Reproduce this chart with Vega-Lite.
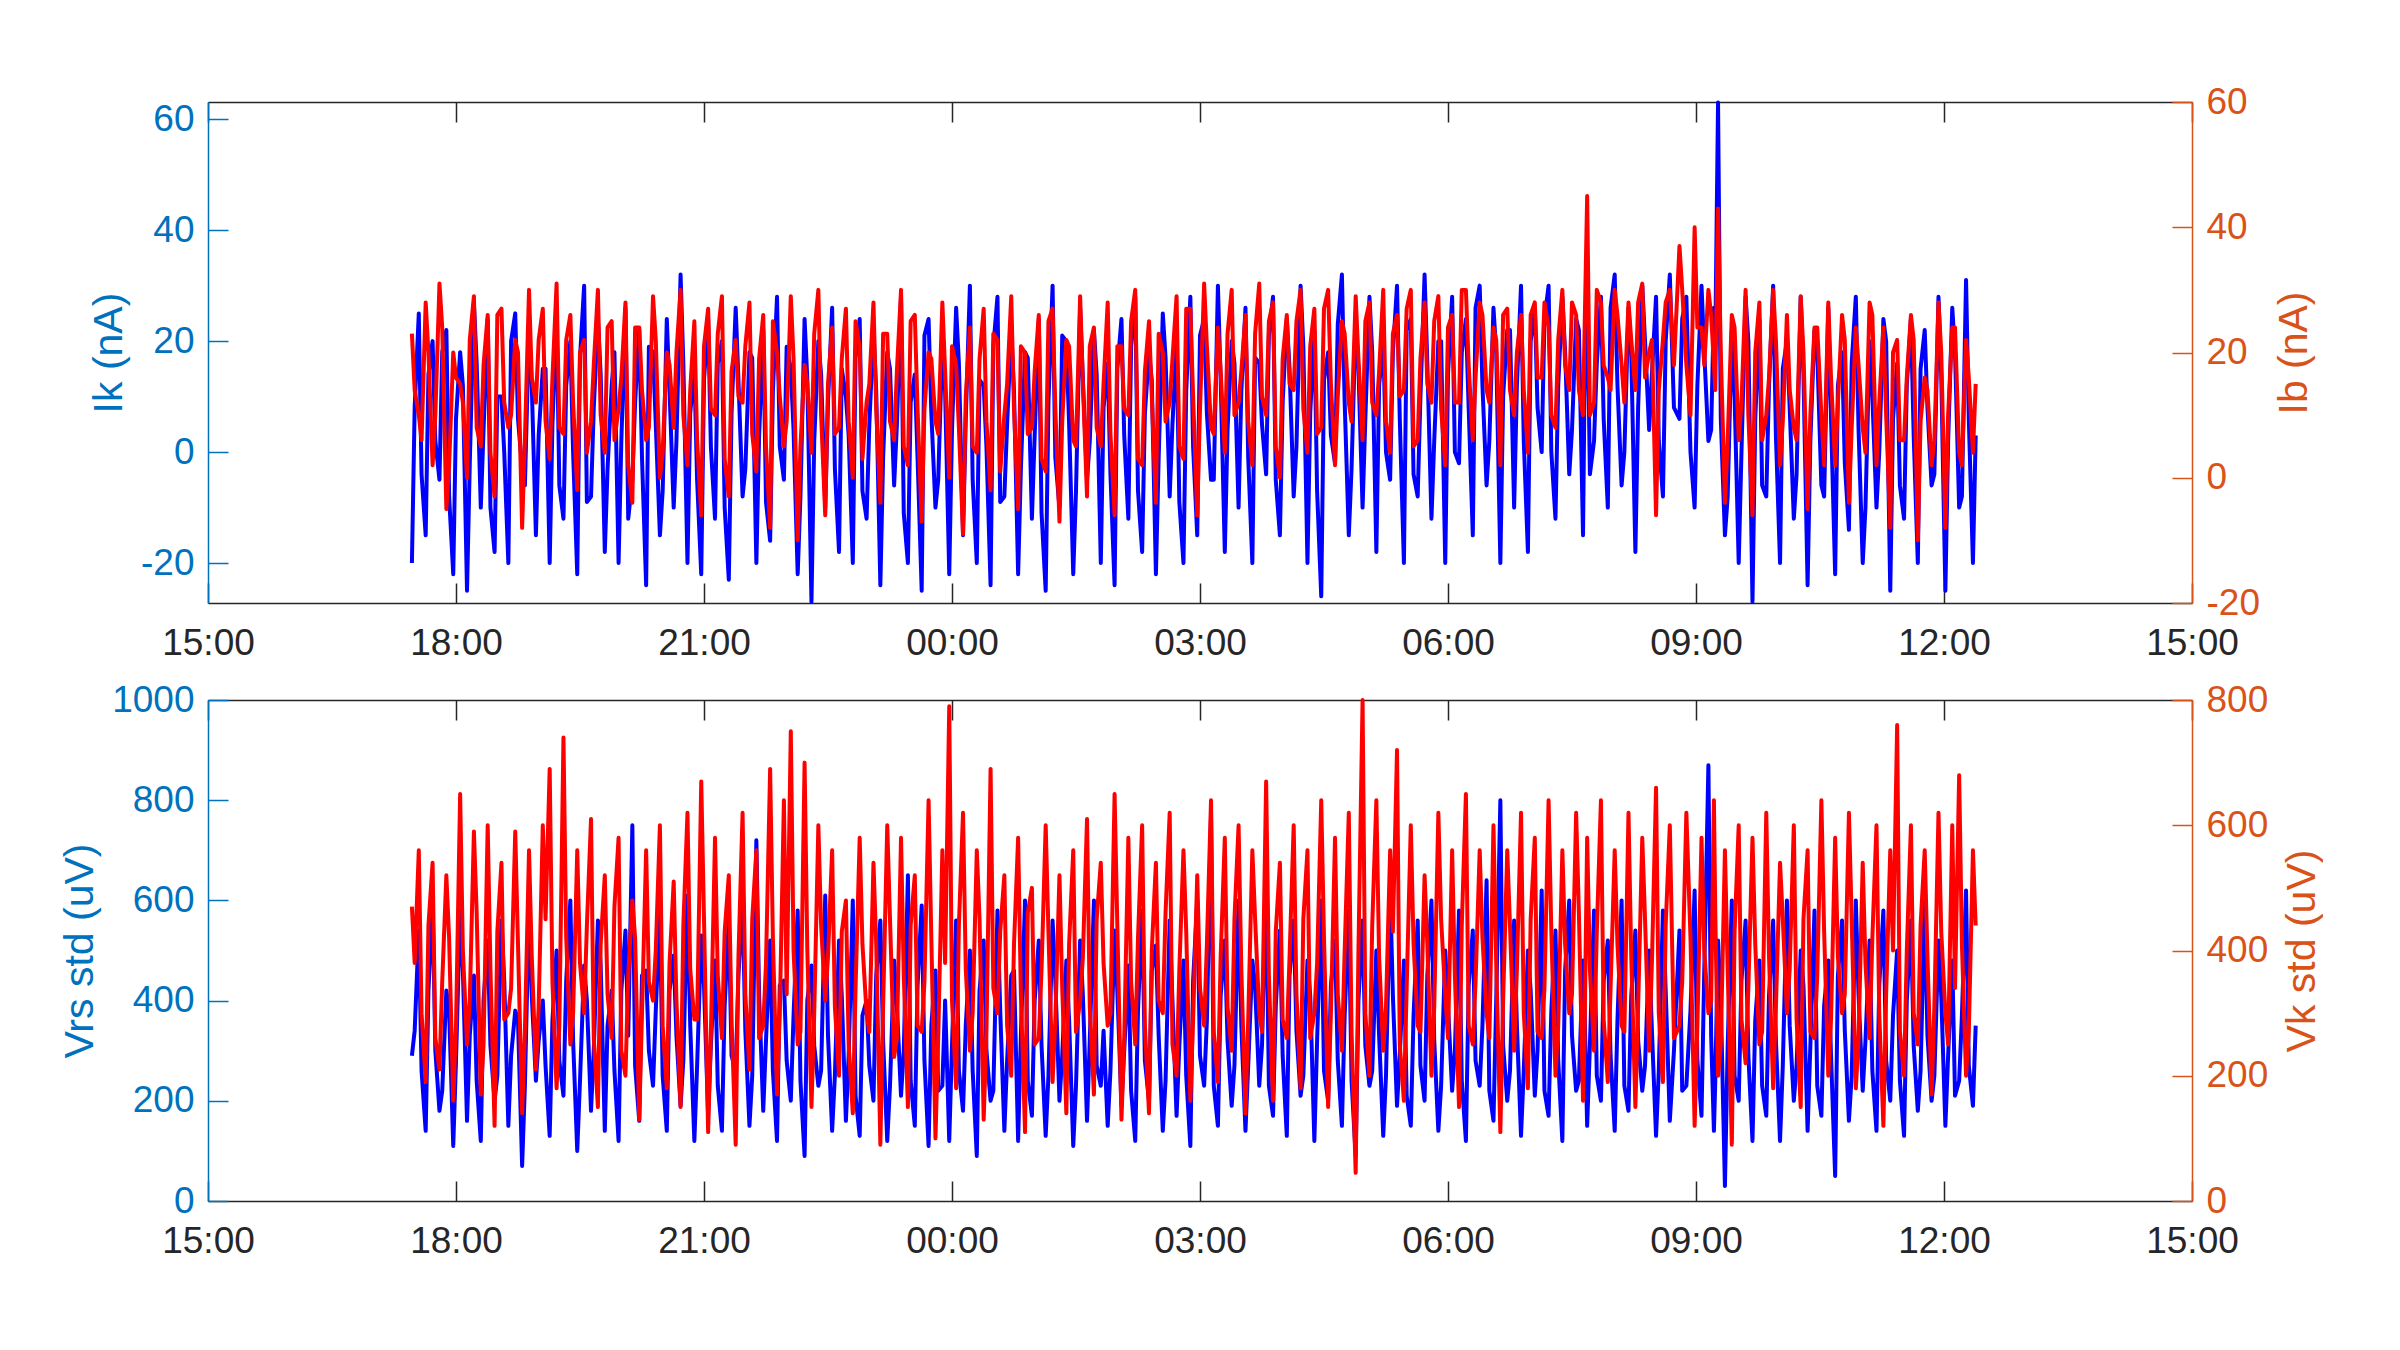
{
  "$schema": "https://vega.github.io/schema/vega-lite/v6.json",
  "background": "white",
  "padding": {"left": 59, "top": 83, "right": 0, "bottom": 0},
  "bounds": "flush",
  "spacing": 97,
  "config": {
    "view": {"stroke": null},
    "font": "Liberation Sans",
    "axis": {
      "grid": false,
      "labelFontSize": 37,
      "titleFontSize": 41,
      "titleFontWeight": "normal",
      "tickSize": -20,
      "tickWidth": 1.5,
      "domainWidth": 1.5,
      "labelFlush": false,
      "labelOverlap": false
    }
  },
  "data": {"values": [
    {"m":148,"a":-20,"b":23,"c":290,"d":470},{"m":150,"a":8,"b":14,"c":340,"d":380},
    {"m":153,"a":25,"b":10,"c":540,"d":560},{"m":155,"a":-4,"b":6,"c":260,"d":300},
    {"m":158,"a":-15,"b":28,"c":140,"d":190},{"m":160,"a":14,"b":20,"c":420,"d":440},
    {"m":163,"a":20,"b":2,"c":600,"d":540},{"m":165,"a":2,"b":10,"c":300,"d":260},
    {"m":168,"a":-5,"b":31,"c":180,"d":210},{"m":170,"a":18,"b":24,"c":220,"d":350},
    {"m":173,"a":22,"b":-5,"c":420,"d":520},{"m":175,"a":-8,"b":2,"c":380,"d":420},
    {"m":178,"a":-22,"b":20,"c":110,"d":160},{"m":180,"a":6,"b":16,"c":280,"d":280},
    {"m":183,"a":18,"b":15,"c":580,"d":650},{"m":185,"a":12,"b":12,"c":460,"d":400},
    {"m":188,"a":-25,"b":0,"c":160,"d":250},{"m":190,"a":-2,"b":22,"c":330,"d":320},
    {"m":193,"a":27,"b":29,"c":450,"d":590},{"m":195,"a":16,"b":8,"c":240,"d":460},
    {"m":198,"a":-10,"b":5,"c":120,"d":170},{"m":200,"a":4,"b":18,"c":400,"d":250},
    {"m":203,"a":24,"b":26,"c":520,"d":600},{"m":205,"a":-10,"b":4,"c":310,"d":370},
    {"m":208,"a":-18,"b":-3,"c":200,"d":120},{"m":210,"a":10,"b":26,"c":250,"d":430},
    {"m":213,"a":10,"b":27,"c":560,"d":540},{"m":215,"a":0,"b":12,"c":440,"d":290},
    {"m":218,"a":-20,"b":8,"c":150,"d":300},{"m":220,"a":20,"b":10,"c":290,"d":340},
    {"m":223,"a":25,"b":22,"c":380,"d":590},{"m":225,"a":6,"b":20,"c":360,"d":410},
    {"m":228,"a":-3,"b":-8,"c":70,"d":140},{"m":230,"a":-6,"b":6,"c":230,"d":270},
    {"m":233,"a":22,"b":30,"c":590,"d":560},{"m":235,"a":12,"b":16,"c":410,"d":390},
    {"m":238,"a":-15,"b":12,"c":240,"d":210},{"m":240,"a":3,"b":22,"c":320,"d":310},
    {"m":243,"a":15,"b":27,"c":400,"d":600},{"m":245,"a":15,"b":9,"c":270,"d":450},
    {"m":248,"a":-20,"b":3,"c":130,"d":690},{"m":250,"a":5,"b":16,"c":360,"d":350},
    {"m":253,"a":25,"b":31,"c":500,"d":180},{"m":255,"a":-6,"b":8,"c":280,"d":280},
    {"m":258,"a":-12,"b":7,"c":210,"d":740},{"m":260,"a":12,"b":22,"c":440,"d":420},
    {"m":263,"a":20,"b":26,"c":600,"d":250},{"m":265,"a":0,"b":12,"c":320,"d":300},
    {"m":268,"a":-22,"b":-2,"c":100,"d":560},{"m":270,"a":17,"b":20,"c":240,"d":380},
    {"m":273,"a":30,"b":22,"c":470,"d":300},{"m":275,"a":-9,"b":4,"c":400,"d":440},
    {"m":278,"a":-8,"b":9,"c":180,"d":610},{"m":280,"a":8,"b":18,"c":300,"d":260},
    {"m":283,"a":24,"b":30,"c":560,"d":150},{"m":285,"a":14,"b":10,"c":470,"d":410},
    {"m":288,"a":-18,"b":4,"c":140,"d":520},{"m":290,"a":-3,"b":24,"c":350,"d":330},
    {"m":293,"a":12,"b":25,"c":420,"d":260},{"m":295,"a":18,"b":6,"c":260,"d":470},
    {"m":298,"a":-20,"b":11,"c":120,"d":580},{"m":300,"a":2,"b":16,"c":420,"d":240},
    {"m":303,"a":26,"b":28,"c":540,"d":200},{"m":305,"a":-12,"b":2,"c":330,"d":360},
    {"m":308,"a":-5,"b":-4,"c":750,"d":480},{"m":310,"a":9,"b":24,"c":270,"d":420},
    {"m":313,"a":22,"b":24,"c":160,"d":130},{"m":315,"a":-1,"b":14,"c":450,"d":300},
    {"m":318,"a":-24,"b":6,"c":460,"d":560},{"m":320,"a":19,"b":8,"c":300,"d":350},
    {"m":323,"a":18,"b":29,"c":230,"d":320},{"m":325,"a":5,"b":22,"c":380,"d":400},
    {"m":328,"a":-15,"b":0,"c":580,"d":600},{"m":330,"a":-7,"b":4,"c":250,"d":280},
    {"m":333,"a":24,"b":20,"c":140,"d":180},{"m":335,"a":11,"b":18,"c":420,"d":380},
    {"m":338,"a":-10,"b":8,"c":490,"d":510},{"m":340,"a":2,"b":20,"c":330,"d":320},
    {"m":343,"a":32,"b":30,"c":190,"d":150},{"m":345,"a":16,"b":10,"c":280,"d":440},
    {"m":348,"a":-20,"b":2,"c":610,"d":620},{"m":350,"a":7,"b":14,"c":350,"d":370},
    {"m":353,"a":15,"b":25,"c":120,"d":290},{"m":355,"a":-5,"b":6,"c":270,"d":290},
    {"m":358,"a":-22,"b":-6,"c":530,"d":670},{"m":360,"a":13,"b":21,"c":430,"d":450},
    {"m":363,"a":24,"b":27,"c":170,"d":110},{"m":365,"a":1,"b":11,"c":310,"d":270},
    {"m":368,"a":-12,"b":10,"c":480,"d":580},{"m":370,"a":16,"b":23,"c":230,"d":360},
    {"m":373,"a":20,"b":29,"c":140,"d":260},{"m":375,"a":-10,"b":3,"c":390,"d":430},
    {"m":378,"a":-23,"b":-3,"c":560,"d":520},{"m":380,"a":7,"b":17,"c":290,"d":290},
    {"m":383,"a":26,"b":22,"c":260,"d":90},{"m":385,"a":13,"b":13,"c":450,"d":390},
    {"m":388,"a":-8,"b":12,"c":600,"d":620},{"m":390,"a":-3,"b":21,"c":340,"d":330},
    {"m":393,"a":18,"b":28,"c":150,"d":210},{"m":395,"a":17,"b":7,"c":250,"d":450},
    {"m":398,"a":-20,"b":1,"c":720,"d":560},{"m":400,"a":3,"b":19,"c":410,"d":260},
    {"m":403,"a":22,"b":26,"c":180,"d":280},{"m":405,"a":-9,"b":5,"c":320,"d":380},
    {"m":408,"a":-16,"b":-8,"c":520,"d":690},{"m":410,"a":11,"b":25,"c":260,"d":420},
    {"m":413,"a":28,"b":20,"c":120,"d":170},{"m":415,"a":1,"b":13,"c":430,"d":300},
    {"m":418,"a":-5,"b":5,"c":440,"d":640},{"m":420,"a":19,"b":9,"c":280,"d":330},
    {"m":423,"a":15,"b":29,"c":200,"d":750},{"m":425,"a":4,"b":19,"c":370,"d":400},
    {"m":428,"a":-22,"b":-10,"c":580,"d":250},{"m":430,"a":-8,"b":5,"c":240,"d":270},
    {"m":433,"a":24,"b":18,"c":90,"d":700},{"m":435,"a":13,"b":15,"c":400,"d":400},
    {"m":438,"a":-27,"b":4,"c":470,"d":150},{"m":440,"a":2,"b":23,"c":310,"d":300},
    {"m":443,"a":20,"b":30,"c":230,"d":600},{"m":445,"a":14,"b":10,"c":260,"d":440},
    {"m":448,"a":-10,"b":-6,"c":610,"d":320},{"m":450,"a":9,"b":15,"c":330,"d":390},
    {"m":453,"a":26,"b":24,"c":140,"d":560},{"m":455,"a":-3,"b":7,"c":250,"d":310},
    {"m":458,"a":-18,"b":8,"c":520,"d":200},{"m":460,"a":15,"b":19,"c":410,"d":430},
    {"m":463,"a":10,"b":27,"c":160,"d":480},{"m":465,"a":3,"b":9,"c":290,"d":250},
    {"m":468,"a":-20,"b":0,"c":600,"d":140},{"m":470,"a":17,"b":25,"c":210,"d":340},
    {"m":473,"a":24,"b":21,"c":130,"d":580},{"m":475,"a":-7,"b":3,"c":370,"d":410},
    {"m":478,"a":-12,"b":12,"c":400,"d":300},{"m":480,"a":5,"b":15,"c":270,"d":270},
    {"m":483,"a":22,"b":28,"c":200,"d":540},{"m":485,"a":11,"b":11,"c":450,"d":410},
    {"m":488,"a":-24,"b":-4,"c":560,"d":90},{"m":490,"a":-1,"b":23,"c":320,"d":310},
    {"m":493,"a":18,"b":23,"c":120,"d":600},{"m":495,"a":15,"b":9,"c":230,"d":450},
    {"m":498,"a":-6,"b":6,"c":480,"d":230},{"m":500,"a":5,"b":17,"c":390,"d":260},
    {"m":503,"a":28,"b":30,"c":210,"d":580},{"m":505,"a":-11,"b":5,"c":300,"d":360},
    {"m":508,"a":-20,"b":2,"c":650,"d":150},{"m":510,"a":9,"b":25,"c":240,"d":440},
    {"m":513,"a":14,"b":26,"c":150,"d":520},{"m":515,"a":-1,"b":11,"c":430,"d":280},
    {"m":518,"a":-25,"b":-7,"c":590,"d":270},{"m":520,"a":21,"b":11,"c":280,"d":350},
    {"m":523,"a":24,"b":20,"c":110,"d":640},{"m":525,"a":7,"b":19,"c":350,"d":420},
    {"m":528,"a":-10,"b":9,"c":460,"d":100},{"m":530,"a":-5,"b":7,"c":220,"d":260},
    {"m":533,"a":20,"b":28,"c":230,"d":560},{"m":535,"a":11,"b":17,"c":400,"d":380},
    {"m":538,"a":-22,"b":0,"c":120,"d":790},{"m":540,"a":4,"b":21,"c":310,"d":320},
    {"m":543,"a":26,"b":18,"c":560,"d":180},{"m":545,"a":16,"b":8,"c":260,"d":440},
    {"m":548,"a":-15,"b":-9,"c":180,"d":620},{"m":550,"a":6,"b":13,"c":350,"d":370},
    {"m":553,"a":30,"b":24,"c":500,"d":240},{"m":555,"a":-5,"b":5,"c":260,"d":300},
    {"m":558,"a":-20,"b":4,"c":90,"d":560},{"m":560,"a":13,"b":19,"c":420,"d":450},
    {"m":563,"a":12,"b":27,"c":520,"d":130},{"m":565,"a":1,"b":9,"c":300,"d":270},
    {"m":568,"a":-24,"b":-2,"c":200,"d":690},{"m":570,"a":19,"b":23,"c":220,"d":340},
    {"m":573,"a":28,"b":22,"c":580,"d":300},{"m":575,"a":-9,"b":1,"c":380,"d":430},
    {"m":578,"a":-8,"b":10,"c":140,"d":520},{"m":580,"a":5,"b":15,"c":280,"d":280},
    {"m":583,"a":22,"b":29,"c":450,"d":200},{"m":585,"a":11,"b":11,"c":460,"d":410},
    {"m":588,"a":-22,"b":-5,"c":120,"d":580},{"m":590,"a":-3,"b":21,"c":330,"d":330},
    {"m":593,"a":18,"b":20,"c":600,"d":110},{"m":595,"a":17,"b":7,"c":240,"d":460},
    {"m":598,"a":-12,"b":8,"c":170,"d":500},{"m":600,"a":3,"b":17,"c":400,"d":250},
    {"m":603,"a":24,"b":26,"c":520,"d":260},{"m":605,"a":-11,"b":3,"c":310,"d":370},
    {"m":608,"a":-25,"b":1,"c":130,"d":600},{"m":610,"a":9,"b":25,"c":250,"d":430},
    {"m":613,"a":30,"b":27,"c":560,"d":190},{"m":615,"a":-1,"b":11,"c":440,"d":290},
    {"m":618,"a":-10,"b":-7,"c":200,"d":520},{"m":620,"a":21,"b":9,"c":290,"d":340},
    {"m":623,"a":20,"b":22,"c":480,"d":140},{"m":625,"a":5,"b":21,"c":360,"d":410},
    {"m":628,"a":-22,"b":6,"c":110,"d":560},{"m":630,"a":-7,"b":5,"c":230,"d":270},
    {"m":633,"a":26,"b":29,"c":520,"d":320},{"m":635,"a":13,"b":15,"c":410,"d":390},
    {"m":638,"a":-5,"b":-3,"c":160,"d":610},{"m":640,"a":2,"b":21,"c":320,"d":310},
    {"m":643,"a":22,"b":24,"c":600,"d":170},{"m":645,"a":14,"b":8,"c":270,"d":450},
    {"m":648,"a":-20,"b":5,"c":230,"d":540},{"m":650,"a":8,"b":15,"c":340,"d":380},
    {"m":653,"a":16,"b":28,"c":150,"d":280},{"m":655,"a":-4,"b":7,"c":260,"d":300},
    {"m":658,"a":-24,"b":-6,"c":540,"d":650},{"m":660,"a":15,"b":21,"c":420,"d":440},
    {"m":663,"a":24,"b":21,"c":190,"d":130},{"m":665,"a":3,"b":11,"c":300,"d":260},
    {"m":668,"a":-12,"b":10,"c":470,"d":580},{"m":670,"a":19,"b":25,"c":220,"d":350},
    {"m":673,"a":28,"b":30,"c":120,"d":250},{"m":675,"a":-7,"b":3,"c":380,"d":420},
    {"m":678,"a":-18,"b":2,"c":580,"d":600},{"m":680,"a":7,"b":17,"c":280,"d":280},
    {"m":683,"a":18,"b":25,"c":200,"d":140},{"m":685,"a":13,"b":13,"c":460,"d":400},
    {"m":688,"a":-22,"b":-4,"c":510,"d":540},{"m":690,"a":-1,"b":23,"c":330,"d":320},
    {"m":693,"a":25,"b":20,"c":140,"d":300},{"m":695,"a":17,"b":9,"c":240,"d":460},
    {"m":698,"a":-8,"b":12,"c":560,"d":620},{"m":700,"a":5,"b":19,"c":400,"d":250},
    {"m":703,"a":20,"b":29,"c":170,"d":200},{"m":705,"a":-9,"b":5,"c":310,"d":370},
    {"m":708,"a":-20,"b":3,"c":480,"d":560},{"m":710,"a":11,"b":27,"c":250,"d":430},
    {"m":713,"a":28,"b":27,"c":110,"d":160},{"m":715,"a":1,"b":13,"c":440,"d":290},
    {"m":718,"a":-15,"b":-6,"c":600,"d":520},{"m":720,"a":21,"b":11,"c":290,"d":340},
    {"m":723,"a":24,"b":31,"c":230,"d":280},{"m":725,"a":7,"b":21,"c":360,"d":410},
    {"m":728,"a":-5,"b":8,"c":770,"d":640},{"m":730,"a":-5,"b":7,"c":230,"d":270},
    {"m":733,"a":30,"b":24,"c":150,"d":190},{"m":735,"a":13,"b":17,"c":410,"d":390},
    {"m":738,"a":-18,"b":4,"c":520,"d":580},{"m":740,"a":4,"b":23,"c":320,"d":310},
    {"m":743,"a":20,"b":30,"c":190,"d":240},{"m":745,"a":16,"b":10,"c":270,"d":450},
    {"m":748,"a":-10,"b":12,"c":600,"d":600},{"m":750,"a":11,"b":17,"c":350,"d":370},
    {"m":753,"a":26,"b":26,"c":140,"d":140},{"m":755,"a":-1,"b":9,"c":270,"d":290},
    {"m":758,"a":-20,"b":2,"c":480,"d":560},{"m":760,"a":17,"b":23,"c":430,"d":450},
    {"m":763,"a":16,"b":31,"c":230,"d":300},{"m":765,"a":5,"b":13,"c":310,"d":270},
    {"m":768,"a":-4,"b":10,"c":640,"d":670},{"m":770,"a":21,"b":25,"c":230,"d":360},
    {"m":773,"a":28,"b":28,"c":170,"d":160},{"m":775,"a":-5,"b":5,"c":390,"d":430},
    {"m":778,"a":-15,"b":0,"c":540,"d":540},{"m":780,"a":9,"b":19,"c":290,"d":290},
    {"m":783,"a":24,"b":26,"c":130,"d":260},{"m":785,"a":15,"b":15,"c":450,"d":390},
    {"m":788,"a":-8,"b":14,"c":560,"d":600},{"m":790,"a":1,"b":25,"c":340,"d":330},
    {"m":793,"a":30,"b":30,"c":210,"d":180},{"m":795,"a":19,"b":11,"c":250,"d":450},
    {"m":798,"a":-20,"b":4,"c":480,"d":560},{"m":800,"a":7,"b":21,"c":410,"d":260},
    {"m":803,"a":22,"b":27,"c":120,"d":300},{"m":805,"a":-7,"b":7,"c":320,"d":380},
    {"m":808,"a":-26,"b":8,"c":600,"d":640},{"m":810,"a":13,"b":27,"c":260,"d":420},
    {"m":813,"a":18,"b":30,"c":200,"d":150},{"m":815,"a":3,"b":15,"c":430,"d":300},
    {"m":818,"a":-2,"b":2,"c":520,"d":580},{"m":820,"a":23,"b":13,"c":280,"d":330},
    {"m":823,"a":32,"b":25,"c":150,"d":240},{"m":825,"a":9,"b":23,"c":370,"d":400},
    {"m":828,"a":-15,"b":12,"c":580,"d":620},{"m":830,"a":-3,"b":9,"c":240,"d":270},
    {"m":833,"a":24,"b":29,"c":90,"d":45},{"m":835,"a":15,"b":19,"c":400,"d":400},
    {"m":838,"a":-10,"b":6,"c":560,"d":800},{"m":840,"a":6,"b":25,"c":310,"d":300},
    {"m":843,"a":28,"b":28,"c":230,"d":200},{"m":845,"a":18,"b":12,"c":260,"d":440},
    {"m":848,"a":-18,"b":10,"c":500,"d":640},{"m":850,"a":12,"b":17,"c":330,"d":390},
    {"m":853,"a":20,"b":30,"c":130,"d":240},{"m":855,"a":0,"b":9,"c":250,"d":310},
    {"m":858,"a":-5,"b":4,"c":620,"d":560},{"m":860,"a":18,"b":23,"c":410,"d":430},
    {"m":863,"a":30,"b":26,"c":190,"d":720},{"m":865,"a":6,"b":13,"c":290,"d":250},
    {"m":868,"a":-20,"b":14,"c":480,"d":160},{"m":870,"a":22,"b":27,"c":210,"d":340},
    {"m":873,"a":24,"b":30,"c":150,"d":600},{"m":875,"a":-4,"b":5,"c":370,"d":410},
    {"m":878,"a":-8,"b":6,"c":560,"d":280},{"m":880,"a":10,"b":19,"c":270,"d":270},
    {"m":883,"a":32,"b":28,"c":200,"d":520},{"m":885,"a":16,"b":15,"c":450,"d":410},
    {"m":888,"a":-12,"b":12,"c":600,"d":200},{"m":890,"a":2,"b":25,"c":320,"d":310},
    {"m":893,"a":20,"b":29,"c":140,"d":620},{"m":895,"a":20,"b":11,"c":230,"d":450},
    {"m":898,"a":-20,"b":2,"c":500,"d":330},{"m":900,"a":14,"b":24,"c":390,"d":260},
    {"m":903,"a":28,"b":26,"c":220,"d":560},{"m":905,"a":0,"b":12,"c":300,"d":360},
    {"m":908,"a":-2,"b":12,"c":580,"d":150},{"m":910,"a":18,"b":30,"c":240,"d":440},
    {"m":913,"a":24,"b":30,"c":120,"d":650},{"m":915,"a":8,"b":18,"c":430,"d":280},
    {"m":918,"a":-15,"b":6,"c":540,"d":250},{"m":920,"a":26,"b":16,"c":280,"d":350},
    {"m":923,"a":30,"b":28,"c":230,"d":560},{"m":925,"a":12,"b":26,"c":350,"d":420},
    {"m":928,"a":-6,"b":14,"c":640,"d":300},{"m":930,"a":2,"b":12,"c":220,"d":260},
    {"m":933,"a":26,"b":24,"c":160,"d":600},{"m":935,"a":18,"b":22,"c":400,"d":380},
    {"m":938,"a":-20,"b":2,"c":800,"d":110},{"m":940,"a":10,"b":26,"c":310,"d":320},
    {"m":943,"a":22,"b":27,"c":200,"d":560},{"m":945,"a":22,"b":14,"c":260,"d":440},
    {"m":948,"a":-10,"b":10,"c":560,"d":240},{"m":950,"a":12,"b":20,"c":350,"d":370},
    {"m":953,"a":30,"b":26,"c":130,"d":620},{"m":955,"a":2,"b":14,"c":260,"d":300},
    {"m":958,"a":-18,"b":4,"c":500,"d":180},{"m":960,"a":20,"b":26,"c":420,"d":450},
    {"m":963,"a":26,"b":28,"c":210,"d":580},{"m":965,"a":8,"b":16,"c":300,"d":270},
    {"m":968,"a":0,"b":16,"c":620,"d":260},{"m":970,"a":24,"b":28,"c":220,"d":340},
    {"m":973,"a":30,"b":24,"c":170,"d":640},{"m":975,"a":0,"b":10,"c":380,"d":430},
    {"m":978,"a":-12,"b":8,"c":540,"d":200},{"m":980,"a":12,"b":22,"c":280,"d":280},
    {"m":983,"a":28,"b":30,"c":120,"d":560},{"m":985,"a":18,"b":18,"c":460,"d":410},
    {"m":988,"a":-4,"b":14,"c":600,"d":300},{"m":990,"a":4,"b":28,"c":330,"d":330},
    {"m":993,"a":24,"b":26,"c":220,"d":620},{"m":995,"a":22,"b":14,"c":240,"d":460},
    {"m":998,"a":-15,"b":10,"c":480,"d":160},{"m":999,"a":10,"b":22,"c":400,"d":250},
    {"m":1001,"a":30,"b":45,"c":150,"d":580},{"m":1003,"a":-4,"b":10,"c":310,"d":370},
    {"m":1006,"a":2,"b":12,"c":580,"d":240},{"m":1008,"a":16,"b":30,"c":250,"d":430},
    {"m":1011,"a":28,"b":28,"c":200,"d":640},{"m":1013,"a":6,"b":18,"c":440,"d":290},
    {"m":1016,"a":-10,"b":16,"c":520,"d":190},{"m":1018,"a":26,"b":14,"c":290,"d":340},
    {"m":1021,"a":32,"b":30,"c":140,"d":560},{"m":1023,"a":12,"b":26,"c":360,"d":410},
    {"m":1026,"a":-6,"b":18,"c":600,"d":280},{"m":1028,"a":0,"b":12,"c":230,"d":270},
    {"m":1031,"a":26,"b":28,"c":180,"d":620},{"m":1033,"a":18,"b":22,"c":410,"d":390},
    {"m":1036,"a":-18,"b":14,"c":540,"d":150},{"m":1038,"a":8,"b":28,"c":320,"d":310},
    {"m":1041,"a":30,"b":31,"c":220,"d":580},{"m":1043,"a":20,"b":16,"c":270,"d":450},
    {"m":1046,"a":4,"b":20,"c":500,"d":240},{"m":1048,"a":14,"b":22,"c":340,"d":380},
    {"m":1051,"a":28,"b":-6,"c":130,"d":660},{"m":1053,"a":2,"b":14,"c":260,"d":300},
    {"m":1056,"a":-8,"b":22,"c":580,"d":190},{"m":1058,"a":20,"b":28,"c":420,"d":440},
    {"m":1061,"a":32,"b":30,"c":160,"d":600},{"m":1064,"a":8,"b":18,"c":300,"d":260},
    {"m":1068,"a":6,"b":37,"c":540,"d":280},{"m":1070,"a":24,"b":30,"c":220,"d":350},
    {"m":1073,"a":28,"b":18,"c":230,"d":620},{"m":1076,"a":0,"b":10,"c":380,"d":420},
    {"m":1079,"a":-10,"b":40,"c":620,"d":120},{"m":1081,"a":12,"b":24,"c":280,"d":280},
    {"m":1084,"a":30,"b":24,"c":170,"d":580},{"m":1086,"a":18,"b":18,"c":460,"d":400},
    {"m":1089,"a":2,"b":30,"c":870,"d":300},{"m":1091,"a":4,"b":26,"c":330,"d":320},
    {"m":1093,"a":26,"b":18,"c":140,"d":640},{"m":1094,"a":20,"b":14,"c":240,"d":460},
    {"m":1096,"a":63,"b":43,"c":520,"d":200},{"m":1098,"a":6,"b":20,"c":400,"d":250},
    {"m":1101,"a":-15,"b":-4,"c":30,"d":560},{"m":1103,"a":-8,"b":6,"c":310,"d":370},
    {"m":1106,"a":22,"b":26,"c":600,"d":90},{"m":1108,"a":10,"b":24,"c":250,"d":430},
    {"m":1111,"a":-20,"b":6,"c":200,"d":600},{"m":1113,"a":0,"b":12,"c":440,"d":290},
    {"m":1116,"a":28,"b":30,"c":560,"d":220},{"m":1118,"a":20,"b":10,"c":290,"d":340},
    {"m":1121,"a":-27,"b":-6,"c":120,"d":580},{"m":1123,"a":6,"b":20,"c":360,"d":410},
    {"m":1126,"a":24,"b":28,"c":480,"d":250},{"m":1128,"a":-6,"b":6,"c":230,"d":270},
    {"m":1131,"a":-8,"b":10,"c":170,"d":620},{"m":1133,"a":12,"b":16,"c":410,"d":390},
    {"m":1136,"a":30,"b":30,"c":560,"d":180},{"m":1138,"a":3,"b":22,"c":320,"d":310},
    {"m":1141,"a":-20,"b":2,"c":120,"d":540},{"m":1143,"a":15,"b":9,"c":270,"d":450},
    {"m":1146,"a":20,"b":26,"c":600,"d":300},{"m":1148,"a":8,"b":14,"c":350,"d":370},
    {"m":1151,"a":-12,"b":8,"c":200,"d":600},{"m":1153,"a":-4,"b":6,"c":270,"d":290},
    {"m":1156,"a":28,"b":29,"c":500,"d":150},{"m":1158,"a":14,"b":20,"c":430,"d":450},
    {"m":1161,"a":-24,"b":-5,"c":140,"d":560},{"m":1163,"a":2,"b":10,"c":310,"d":270},
    {"m":1166,"a":22,"b":24,"c":580,"d":260},{"m":1168,"a":18,"b":24,"c":230,"d":360},
    {"m":1171,"a":-6,"b":10,"c":170,"d":640},{"m":1173,"a":-8,"b":2,"c":390,"d":430},
    {"m":1176,"a":26,"b":28,"c":480,"d":200},{"m":1178,"a":6,"b":16,"c":290,"d":290},
    {"m":1181,"a":-22,"b":2,"c":50,"d":580},{"m":1183,"a":12,"b":12,"c":450,"d":390},
    {"m":1186,"a":18,"b":26,"c":560,"d":300},{"m":1188,"a":-2,"b":22,"c":340,"d":330},
    {"m":1191,"a":-14,"b":-4,"c":160,"d":620},{"m":1193,"a":16,"b":8,"c":250,"d":450},
    {"m":1196,"a":28,"b":24,"c":600,"d":180},{"m":1198,"a":4,"b":18,"c":410,"d":260},
    {"m":1201,"a":-20,"b":8,"c":220,"d":540},{"m":1203,"a":-10,"b":4,"c":320,"d":380},
    {"m":1206,"a":20,"b":28,"c":520,"d":260},{"m":1208,"a":10,"b":26,"c":260,"d":420},
    {"m":1211,"a":-10,"b":2,"c":140,"d":600},{"m":1213,"a":0,"b":12,"c":430,"d":300},
    {"m":1216,"a":24,"b":24,"c":580,"d":120},{"m":1218,"a":20,"b":10,"c":280,"d":330},
    {"m":1221,"a":-25,"b":-8,"c":200,"d":560},{"m":1223,"a":6,"b":20,"c":370,"d":400},
    {"m":1226,"a":16,"b":22,"c":500,"d":760},{"m":1228,"a":-6,"b":6,"c":240,"d":270},
    {"m":1231,"a":-12,"b":6,"c":130,"d":200},{"m":1233,"a":12,"b":16,"c":400,"d":400},
    {"m":1236,"a":24,"b":26,"c":560,"d":600},{"m":1238,"a":3,"b":22,"c":310,"d":300},
    {"m":1241,"a":-20,"b":-10,"c":180,"d":250},{"m":1243,"a":15,"b":9,"c":260,"d":440},
    {"m":1246,"a":22,"b":16,"c":600,"d":560},{"m":1248,"a":8,"b":14,"c":330,"d":390},
    {"m":1251,"a":-6,"b":2,"c":200,"d":170},{"m":1253,"a":-4,"b":6,"c":250,"d":310},
    {"m":1256,"a":28,"b":28,"c":520,"d":620},{"m":1258,"a":14,"b":20,"c":410,"d":430},
    {"m":1261,"a":-25,"b":-8,"c":150,"d":300},{"m":1263,"a":2,"b":10,"c":290,"d":250},
    {"m":1266,"a":26,"b":24,"c":480,"d":600},{"m":1268,"a":18,"b":24,"c":210,"d":340},
    {"m":1271,"a":-10,"b":4,"c":240,"d":680},{"m":1273,"a":-8,"b":2,"c":370,"d":410},
    {"m":1276,"a":31,"b":22,"c":620,"d":200},{"m":1278,"a":6,"b":16,"c":270,"d":270},
    {"m":1281,"a":-20,"b":4,"c":190,"d":560},{"m":1283,"a":3,"b":15,"c":350,"d":440}
  ]},
  "vconcat": [
    {
      "width": 1984,
      "height": 501,
      "layer": [
        {
          "mark": {"type": "line", "color": "#0000FF", "strokeWidth": 4, "strokeJoin": "round"},
          "encoding": {
            "x": {"field": "m", "type": "quantitative",
              "scale": {"domain": [0, 1440], "nice": false, "zero": false},
              "axis": {"orient": "bottom", "title": null, "values": [0,180,360,540,720,900,1080,1260,1440],
                "labelExpr": "((floor(datum.value/60)+15)%24 < 10 ? '0' : '') + ((floor(datum.value/60)+15)%24) + ':00'",
                "labelPadding": 42, "labelColor": "#262626", "domainColor": "#262626", "tickColor": "#262626"}},
            "y": {"field": "a", "type": "quantitative",
              "scale": {"domain": [-27.2, 63.1], "nice": false, "zero": false},
              "axis": {"orient": "left", "title": "Ik (nA)", "values": [-20,0,20,40,60], "labelExpr": "toString(datum.value)",
                "labelPadding": 34, "titlePadding": 10, "labelColor": "#0072BD", "titleColor": "#0072BD", "domainColor": "#0072BD", "tickColor": "#0072BD"}}
          }
        },
        {
          "mark": {"type": "line", "color": "#FF0000", "strokeWidth": 4, "strokeJoin": "round"},
          "encoding": {
            "x": {"field": "m", "type": "quantitative",
              "axis": {"orient": "top", "title": null, "labels": false, "values": [0,180,360,540,720,900,1080,1260,1440],
                "domainColor": "#262626", "tickColor": "#262626"}},
            "y": {"field": "b", "type": "quantitative",
              "scale": {"domain": [-20, 60], "nice": false, "zero": false},
              "axis": {"orient": "right", "title": "Ib (nA)", "values": [-20,0,20,40,60], "labelExpr": "toString(datum.value)",
                "titleAngle": 270, "titleBaseline": "top",
                "labelPadding": 34, "titlePadding": 15, "labelColor": "#D95319", "titleColor": "#D95319", "domainColor": "#D95319", "tickColor": "#D95319"}}
          }
        }
      ],
      "resolve": {"scale": {"y": "independent"}, "axis": {"x": "independent", "y": "independent"}}
    },
    {
      "width": 1984,
      "height": 501,
      "layer": [
        {
          "mark": {"type": "line", "color": "#0000FF", "strokeWidth": 4, "strokeJoin": "round"},
          "encoding": {
            "x": {"field": "m", "type": "quantitative",
              "scale": {"domain": [0, 1440], "nice": false, "zero": false},
              "axis": {"orient": "bottom", "title": null, "values": [0,180,360,540,720,900,1080,1260,1440],
                "labelExpr": "((floor(datum.value/60)+15)%24 < 10 ? '0' : '') + ((floor(datum.value/60)+15)%24) + ':00'",
                "labelPadding": 42, "labelColor": "#262626", "domainColor": "#262626", "tickColor": "#262626"}},
            "y": {"field": "c", "type": "quantitative",
              "scale": {"domain": [0, 1000], "nice": false, "zero": false},
              "axis": {"orient": "left", "title": "Vrs std (uV)", "values": [0,200,400,600,800,1000], "labelExpr": "toString(datum.value)",
                "labelPadding": 34, "titlePadding": 10, "labelColor": "#0072BD", "titleColor": "#0072BD", "domainColor": "#0072BD", "tickColor": "#0072BD"}}
          }
        },
        {
          "mark": {"type": "line", "color": "#FF0000", "strokeWidth": 4, "strokeJoin": "round"},
          "encoding": {
            "x": {"field": "m", "type": "quantitative",
              "axis": {"orient": "top", "title": null, "labels": false, "values": [0,180,360,540,720,900,1080,1260,1440],
                "domainColor": "#262626", "tickColor": "#262626"}},
            "y": {"field": "d", "type": "quantitative",
              "scale": {"domain": [0, 800], "nice": false, "zero": false},
              "axis": {"orient": "right", "title": "Vk std (uV)", "values": [0,200,400,600,800], "labelExpr": "toString(datum.value)",
                "titleAngle": 270, "titleBaseline": "top",
                "labelPadding": 34, "titlePadding": 15, "labelColor": "#D95319", "titleColor": "#D95319", "domainColor": "#D95319", "tickColor": "#D95319"}}
          }
        }
      ],
      "resolve": {"scale": {"y": "independent"}, "axis": {"x": "independent", "y": "independent"}}
    }
  ]
}
